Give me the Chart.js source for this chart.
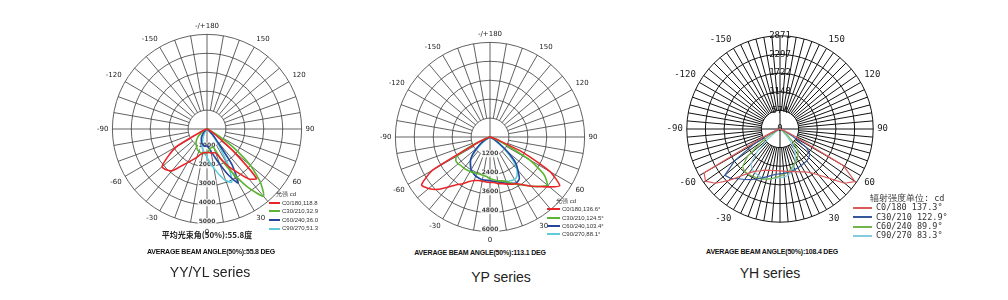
<!DOCTYPE html>
<html>
<head>
<meta charset="utf-8">
<script src="https://cdn.jsdelivr.net/npm/chart.js@4/dist/chart.umd.min.js"></script>
<style>
body{margin:0;width:1008px;height:300px;background:#fff;position:relative;overflow:hidden;font-family:Arial,"Liberation Sans",sans-serif}
canvas{position:absolute}
.t{position:absolute;white-space:nowrap;transform:translate(-50%,-50%)}
.beam{font-size:7px;font-weight:bold;color:#111;letter-spacing:-0.2px}
.cn{font-size:8px;font-weight:bold;color:#222;font-family:"Noto Sans CJK SC",sans-serif}
.series{font-size:14px;color:#222}
.leg{position:absolute;white-space:nowrap;color:#333}
.leg div{display:flex;align-items:center}
.leg i{display:inline-block;height:0;border-top:2px solid}
</style>
</head>
<body>
<canvas id="yy" width="236" height="215" style="left:88px;top:22px"></canvas>
<canvas id="yp" width="236" height="215" style="left:371px;top:30px"></canvas>
<canvas id="yh" width="240" height="216" style="left:658px;top:22px"></canvas>

<div class="t cn" style="left:207px;top:234px">平均光束角(50%):55.8度</div>
<div class="t beam" style="left:211px;top:251px">AVERAGE BEAM ANGLE(50%):55.8 DEG</div>
<div class="t series" style="left:210px;top:272px">YY/YL series</div>
<div class="t beam" style="left:480px;top:252px">AVERAGE BEAM ANGLE(50%):113.1 DEG</div>
<div class="t series" style="left:501px;top:277px">YP series</div>
<div class="t beam" style="left:772px;top:251px">AVERAGE BEAM ANGLE(50%):108.4 DEG</div>
<div class="t series" style="left:770px;top:273px">YH series</div>

<div id="leg-yy" class="leg" style="left:269px;top:190px;font-size:6px;line-height:8.6px"></div>
<div id="leg-yp" class="leg" style="left:547px;top:197px;font-size:6px;line-height:8.3px"></div>
<div id="leg-yh" class="leg" style="left:853px;top:194px;font-size:8.5px;line-height:9.3px;font-family:'DejaVu Sans Mono',monospace"></div>

<script>
// vertical angle gamma, 0 = straight down, + = right half (C0..C90), - = left half (C180..C270)
const GAMMA = [-90,-85,-80,-75,-70,-65,-60,-55,-50,-45,-40,-35,-30,-25,-20,-15,-10,-5,0,
               5,10,15,20,25,30,35,40,45,50,55,60,65,70,75,80,85,90];

// YY/YL series, cd
const YY_C0  = [0,0,0,50,150,400,1850,2500,3100,3050,2880,2400,2050,1800,1600,1400,1300,1250,1250,
                1250,1300,1300,1350,1750,2300,2800,3450,3700,1800,600,250,100,50,0,0,0,0];
const YY_C30 = [0,0,0,0,50,150,250,400,600,750,900,1000,1100,1200,1250,1300,1300,1300,1250,
                1150,1050,1000,1050,1800,2650,3750,4650,4000,3000,1700,700,200,50,0,0,0,0];
const YY_C60 = [0,0,0,0,0,0,0,0,100,250,350,500,600,700,800,850,900,900,900,
                1000,1200,1500,2000,2700,3290,2300,800,400,150,50,0,0,0,0,0,0,0];
const YY_C90 = [0,0,0,0,0,0,0,0,0,0,100,200,300,500,700,1000,1150,1300,1500,
                1800,2100,2500,2900,3100,2300,1200,600,300,100,0,0,0,0,0,0,0,0];

// YP series, cd
const YP_C0  = [0,0,0,0,240,900,4200,5300,5080,4700,4150,3700,3420,3120,2940,2860,2840,2860,2880,
                2900,3000,3060,3180,3300,3420,3720,4080,4440,4920,5400,4400,2300,480,120,0,0,0];
const YP_C30 = [0,0,0,0,240,1200,2460,2640,2640,2580,2580,2550,2520,2490,2460,2440,2460,2520,2640,
                2720,2820,2880,3000,3240,3480,3720,4080,4440,4740,4200,2900,900,240,0,0,0,0];
const YP_C60 = [0,0,0,0,0,0,360,720,1080,1560,1920,2160,2400,2520,2640,2700,2760,2760,2760,
                2820,2880,3000,3120,3240,3360,3240,2760,2280,1440,720,240,0,0,0,0,0,0];
const YP_C90 = [0,0,0,0,0,0,0,360,840,1440,1920,2160,2400,2520,2640,2700,2760,2760,2820,
                2860,2880,2940,3000,3060,3120,3000,2640,2040,1200,480,120,0,0,0,0,0,0];

// YH series, cd
const YH_C0  = [0,0,0,50,150,500,2700,2800,2600,2250,1900,1650,1500,1420,1350,1320,1300,1290,1290,
                1300,1330,1360,1400,1460,1520,1640,1850,2150,2600,2820,2250,400,100,0,0,0,0];
const YH_C30 = [0,0,0,0,100,300,900,1700,2220,2150,2000,1900,1800,1700,1600,1520,1450,1400,1380,
                1370,1360,1350,1330,1320,1300,1290,1280,1250,1200,1000,450,150,0,0,0,0,0];
const YH_C60 = [0,0,0,0,0,100,300,700,1300,1630,1700,1700,1680,1660,1640,1600,1550,1500,1450,
                1400,1350,1280,1200,1120,1050,980,850,600,300,100,0,0,0,0,0,0,0];
const YH_C90 = [0,0,0,0,0,0,50,200,500,1000,1400,1500,1550,1580,1600,1580,1550,1520,1500,
                1480,1450,1350,1250,1100,950,800,500,250,80,0,0,0,0,0,0,0,0];

const RING_YY = [0,1000,2000,3000,4000,5000];
const RING_YP = [0,1200,2400,3600,4800,6000];
const RING_YH = [0,574,1148,1722,2297,2871];

const LEG_YY = ['C0/180,118.8','C30/210,32.9','C60/240,36.0','C90/270,51.3'];
const LEG_YP = ['C0/180,136.6°','C30/210,124.5°','C60/240,103.4°','C90/270,88.1°'];
const LEG_YH = ['C0/180 137.3°','C30/210 122.9°','C60/240 89.9°','C90/270 83.3°'];

const SCAN_COLORS = ['#e8262a','#5cb532','#26469c','#5ecbd9'];
const YH_COLORS = ['#dc5a5a','#34589a','#74b44c','#85cbe0'];

// spokes every 5 deg, index 0 at the bottom going clockwise (= towards negative gamma)
const SPOKES = [];
for (let i = 0; i < 72; i++) { let g = -5 * i; if (g <= -180) g += 360; SPOKES.push(g); }

function toSpokes(vals) {
    return SPOKES.map(g => { const k = GAMMA.indexOf(g); return k >= 0 ? vals[k] : 0; });
}

// ring values drawn along the 0 deg (or 180 deg) axis
const ringLabels = {
    id: 'ringLabels',
    beforeDatasetsDraw(chart, args, o) {
        const s = chart.scales.r, c = chart.ctx;
        c.save();
        c.font = o.font; c.textAlign = 'center'; c.textBaseline = 'middle';
        s.ticks.forEach(t => {
            if (t.value === 0 && !o.zero) return;
            const y = s.yCenter + o.dir * (s.getDistanceFromCenterForValue(t.value) + o.shift);
            const txt = String(t.value);
            if (o.backdrop) {
                const w = c.measureText(txt).width;
                c.fillStyle = o.backdrop;
                c.fillRect(s.xCenter - w / 2 - 1, y - 3.5, w + 2, 7);
            }
            c.fillStyle = o.color;
            c.fillText(txt, s.xCenter, y);
        });
        c.restore();
    }
};

function polar(id, rings, series, colors, o) {
    return new Chart(document.getElementById(id), {
        type: 'radar',
        data: {
            labels: SPOKES.map(String),
            datasets: series.map((s, i) => ({
                data: toSpokes(s), borderColor: colors[i], borderWidth: o.lw,
                pointRadius: 0, fill: false, tension: o.tension
            }))
        },
        options: {
            responsive: false, animation: false, devicePixelRatio: 1,
            layout: { padding: 0 },
            plugins: { legend: { display: false }, tooltip: { enabled: false },
                ringLabels: { dir: o.dir, zero: o.zero, font: o.tickFont, color: o.tickColor, backdrop: o.backdrop, shift: o.shift } },
            scales: { r: {
                startAngle: 180, min: 0, max: rings[rings.length - 1],
                afterBuildTicks: sc => { sc.ticks = rings.map(v => ({ value: v })); },
                ticks: { display: false },
                grid: { circular: true, color: o.grid, lineWidth: o.gw },
                angleLines: {
                    color: o.grid,
                    lineWidth: c => SPOKES[c.index] % o.step === 0 ? o.gw : 0,
                    borderDash: c => {
                        if (SPOKES[c.index] % 90 === 0) return [];
                        const r0 = c.chart.scales.r.getDistanceFromCenterForValue(rings[1]);
                        return [0, r0, 2000];
                    }
                },
                pointLabels: { display: true, padding: 4, color: '#222', font: o.plFont,
                    callback: (l, i) => o.angleText(SPOKES[i]) }
            } }
        },
        plugins: [ringLabels]
    });
}

const scanText = g => g % 30 === 0 ? (Math.abs(g) === 180 ? '-/+180' : String(g)) : '';

polar('yy', RING_YY, [YY_C0, YY_C30, YY_C60, YY_C90], SCAN_COLORS, {
    lw: 1.6, tension: 0.2, grid: '#3a3a3a', gw: 0.8, step: 10, dir: 1, zero: false,
    tickFont: 'bold 6px "DejaVu Sans"', tickColor: '#444', backdrop: 'rgba(255,255,255,0.85)', shift: -2,
    plFont: { family: 'DejaVu Sans', size: 7 }, angleText: scanText
});
polar('yp', RING_YP, [YP_C0, YP_C30, YP_C60, YP_C90], SCAN_COLORS, {
    lw: 1.6, tension: 0.2, grid: '#3a3a3a', gw: 0.8, step: 10, dir: 1, zero: false,
    tickFont: 'bold 6px "DejaVu Sans"', tickColor: '#444', backdrop: 'rgba(255,255,255,0.85)', shift: -2,
    plFont: { family: 'DejaVu Sans', size: 7 }, angleText: scanText
});
polar('yh', RING_YH, [YH_C0, YH_C30, YH_C60, YH_C90], YH_COLORS, {
    lw: 1.2, tension: 0, grid: '#111', gw: 1, step: 5, dir: -1, zero: true,
    tickFont: '9px "DejaVu Sans Mono"', tickColor: '#111', backdrop: null, shift: 0,
    plFont: { family: 'DejaVu Sans Mono', size: 9 },
    angleText: g => (g % 30 === 0 && g !== 0 && Math.abs(g) !== 180) ? String(g) : ''
});

function legend(id, title, names, colors, lineW, gap) {
    const el = document.getElementById(id);
    let html = '<div style="padding-left:' + (lineW + gap - 6) + 'px">' + title + '</div>';
    names.forEach((n, i) => {
        html += '<div><i style="width:' + lineW + 'px;border-color:' + colors[i] + ';margin-right:' + gap + 'px"></i>' + n + '</div>';
    });
    el.innerHTML = html;
}
legend('leg-yy', '光强 cd', LEG_YY, SCAN_COLORS, 11, 2);
legend('leg-yp', '光强 cd', LEG_YP, SCAN_COLORS, 13, 2);
legend('leg-yh', '辐射强度单位: cd', LEG_YH, YH_COLORS, 19, 4);
</script>
</body>
</html>
